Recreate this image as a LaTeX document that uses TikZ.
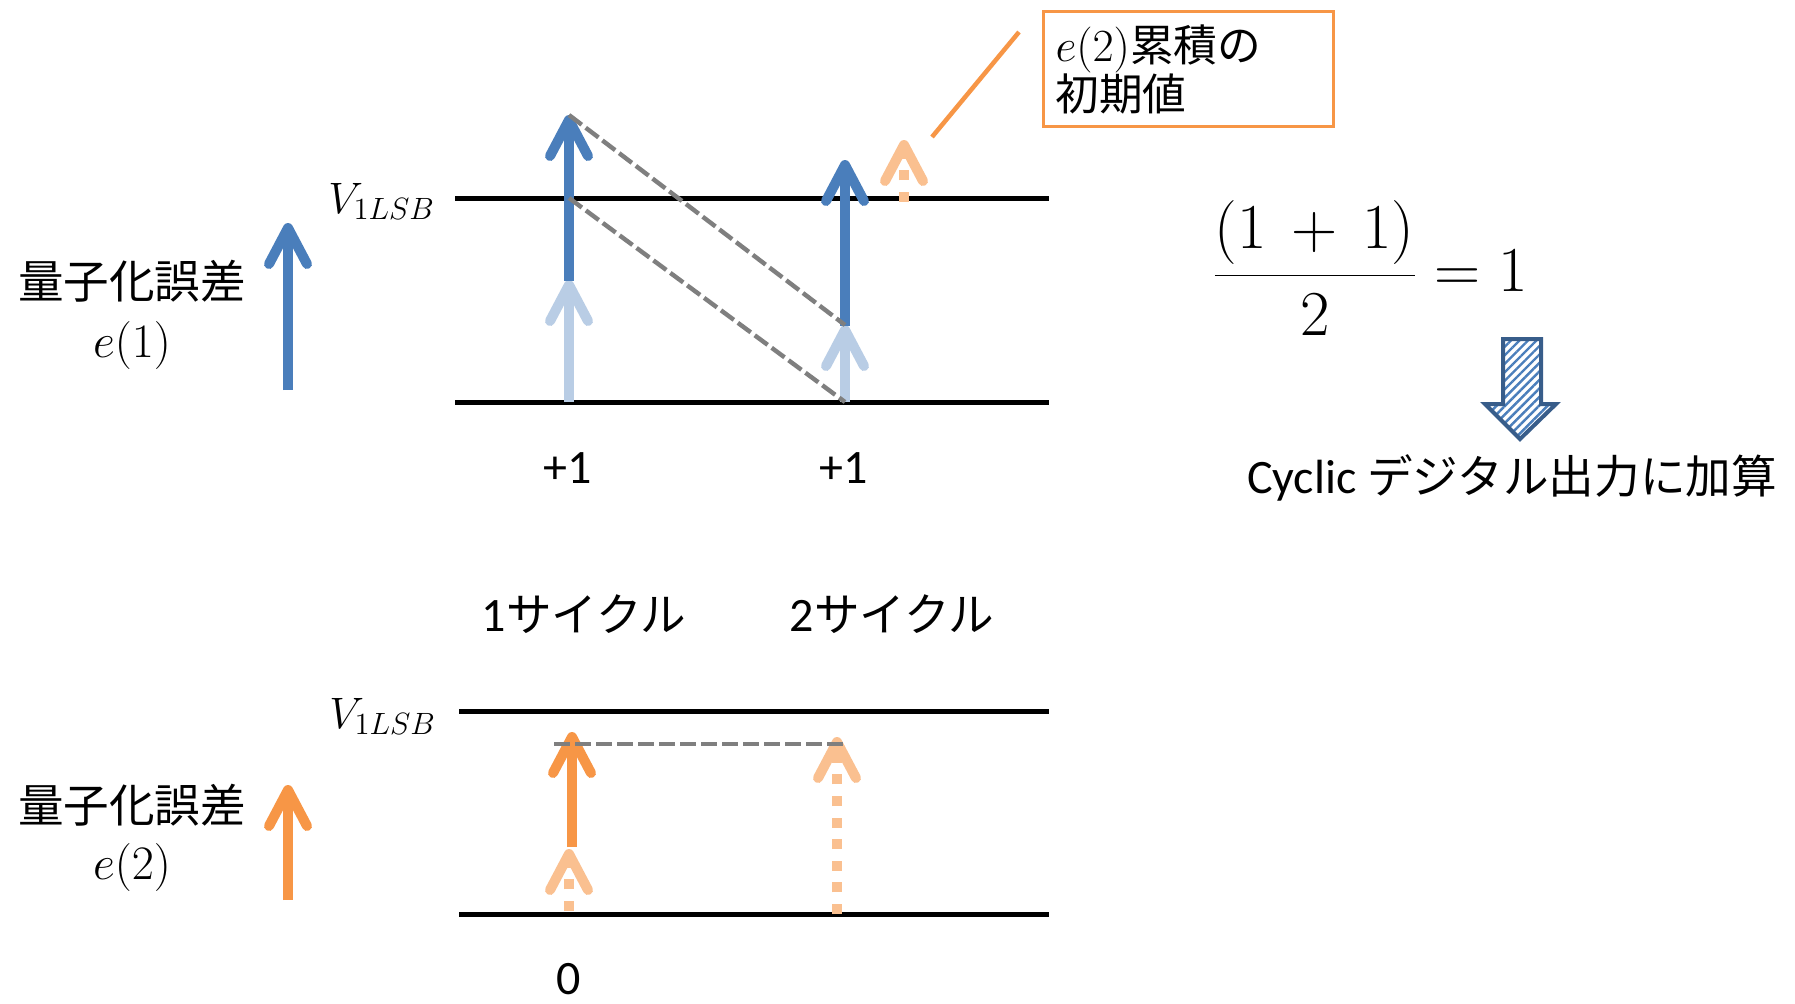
\RequirePackage{fix-cm}
\documentclass[tikz,border=0pt]{standalone}
\usepackage[no-math]{fontspec}
\setmainfont{Carlito}
\newfontfamily\jp{Noto Sans CJK JP}[Scale=0.95]
\usetikzlibrary{positioning,arrows.meta,patterns.meta}
\definecolor{errblue}{HTML}{4A7EBB}
\definecolor{paleblue}{HTML}{B9CDE5}
\definecolor{errorange}{HTML}{F79646}
\definecolor{paleorange}{HTML}{FAC090}
\definecolor{edgeblue}{HTML}{385D8A}
\definecolor{guide}{HTML}{7F7F7F}

\begin{document}
\begin{tikzpicture}[
    x=0.5pt, y=-0.5pt,
    level/.style={line width=2.5pt, black},
    err/.style={line width=5pt, -{Straight Barb[length=18pt, width=19pt, round]}},
    dots/.style={dash pattern=on 5pt off 5.8pt},
    guideline/.style={line width=2.2pt, guide, dash pattern=on 8pt off 2.5pt},
    txt/.style={font=\fontsize{24}{29}\selectfont, inner sep=0pt},
    mth/.style={font=\fontsize{24}{29}\selectfont, inner sep=0pt}
]
% Background
\fill[white] (0,0) rectangle (1795,1003);

% Levels
\draw[level] (455,198) -- (1049,198);
\draw[level] (455,402) -- (1049,402);
\draw[level] (459,711) -- (1049,711);
\draw[level] (459,914) -- (1049,914);

% Points
\coordinate (tip1) at (569,115);
\coordinate (cut1) at (569,198);
\coordinate (base2) at (845,325);
\coordinate (foot2) at (845,402);
\coordinate (tip3) at (572,732);
\coordinate (tip4) at (837,737);

% e(1) arrows
\draw[err, paleblue] (569,402) -- (569,280);
\draw[err, errblue] (569,281) -- (tip1);
\draw[err, paleblue] (foot2) -- (845,325);
\draw[err, errblue] (845,326) -- (845,160);
\draw[err, dots, paleorange] (904,202) -- (904,140);

% e(2) arrows
\draw[err, dots, paleorange] (569,911) -- (569,849);
\draw[err, errorange] (572,847) -- (tip3);
\draw[err, dots, paleorange] (837,914) -- (tip4);

% Guides
\draw[guideline] (tip1) -- (base2);
\draw[guideline] (cut1) -- (foot2);
\draw[guideline] (554,744) -- (845,744);

% Legend arrows
\draw[err, errblue] (288,390) -- (288,223);
\draw[err, errorange] (288,900) -- (288,785);
\node[txt] (q1) at (132,281) {\jp 量子化誤差};
\node[mth] (e1) at (132,345) {$e(1)$};
\node[txt] (q2) at (132,805) {\jp 量子化誤差};
\node[mth] (e2) at (132,867) {$e(2)$};

% Level labels
\node[mth, font=\fontsize{22}{26}\selectfont, anchor=base west] (vtop) at (328,213) {$V_{1LSB}$};
\node[mth, font=\fontsize{22}{26}\selectfont, anchor=base west] (vbot) at (329,728) {$V_{1LSB}$};

% Counts
\node[txt, anchor=base] (inc1) at (568,483) {+1};
\node[txt, anchor=base] (inc2) at (844,483) {+1};
\node[txt, anchor=base] (zero) at (569,994) {0};
\node[txt] (cyc1) at (584,614) {1{\jp サイクル}};
\node[txt] (cyc2) at (892,614) {2{\jp サイクル}};

% Note
\node[draw=errorange, line width=1.5pt, anchor=north west, inner xsep=6pt, inner ysep=0pt,
      text width=133pt, minimum height=57.5pt, align=left,
      font=\fontsize{23}{24.5}\selectfont] (note) at (1042,10)
      {$e(2)${\jp 累積の}\\{\jp 初期値}};
\coordinate (lead0) at (932,137);
\coordinate (lead1) at (1019,32);
\draw[errorange, line width=2.25pt] (lead0) -- (lead1);

% Average
\node[mth, font=\fontsize{32}{38}\selectfont, anchor=west] (avg) at (1212,268)
      {$\displaystyle\frac{(1\,+\,1)}{2}=1$};
\draw[edgeblue, line width=2pt, pattern={Lines[angle=45, distance=3pt, line width=1.2pt]},
      pattern color=errblue]
      (1503,339) -- (1541,339) -- (1541,404) -- (1556,404) -- (1520,439)
      -- (1485,404) -- (1503,404) -- cycle;
\node[txt] (add) at (1512,478) {Cyclic {\jp デジタル出力に加算}};
\end{tikzpicture}
\end{document}
